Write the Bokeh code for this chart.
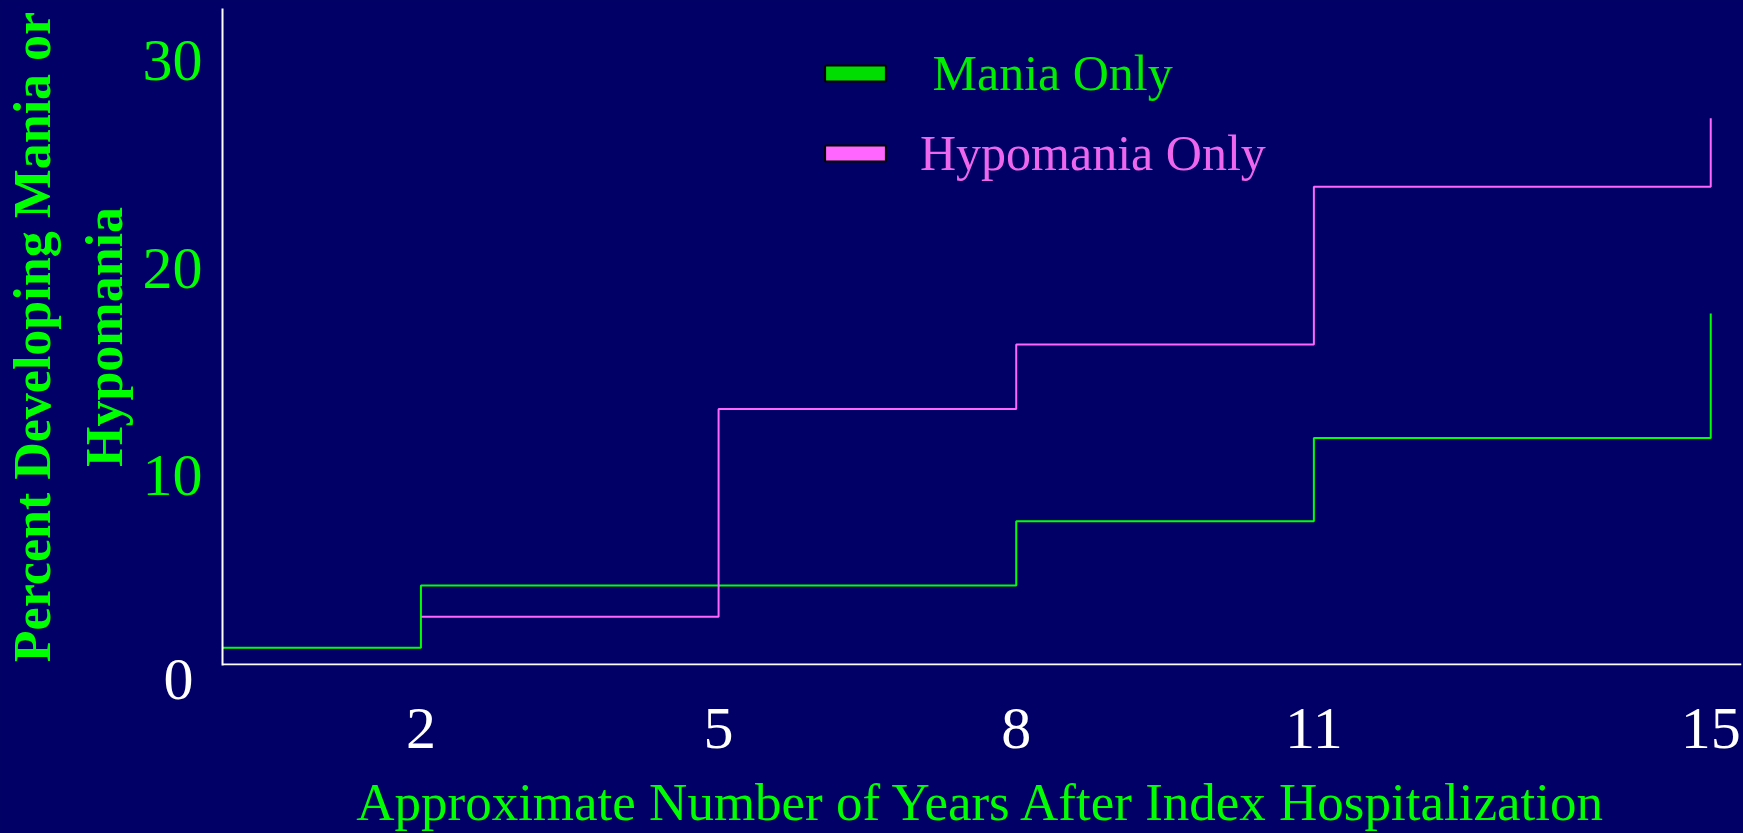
from bokeh.plotting import figure
from bokeh.models import (Range1d, LinearAxis, FixedTicker, Legend, LegendItem, Span, Title,
                          GlobalInlineStyleSheet)
from bokeh.embed import file_html
from bokeh.resources import INLINE

# ---- data ----
mania_years = [0, 2, 5, 8, 11, 15]
mania_pct = [0.8, 3.8, 3.8, 6.9, 10.9, 16.9]
hypo_years = [2, 5, 8, 11, 15]
hypo_pct = [2.3, 12.3, 15.4, 23.0, 26.3]
x_tick_years = [2, 5, 8, 11, 15]
y_tick_green = [10, 20, 30]
y_tick_white = [0]
series_names = [" Mania Only", "Hypomania Only"]

BG = "#000066"
GREEN = "#00FF00"
PINK = "#FF66FF"
FONT = "Liberation Serif"
NAN = float("nan")

p = figure(width=1743, height=833,
           x_range=Range1d(0, 15.31), y_range=Range1d(-0.05, 31.58),
           output_backend="svg", toolbar_location=None, y_axis_location=None,
           background_fill_color=BG, border_fill_color=BG, outline_line_color=None,
           min_border_left=222, min_border_right=2, min_border_top=8, min_border_bottom=168)
p.grid.visible = False
p.stylesheets = [GlobalInlineStyleSheet(css="html, body { background-color: #000066; }")]

# x axis (its line is the zero baseline drawn below)
xa = p.xaxis[0]
xa.ticker = FixedTicker(ticks=x_tick_years)
xa.axis_line_color = None
xa.major_tick_line_color = None
xa.minor_tick_line_color = None
xa.major_label_text_color = "white"
xa.major_label_text_font = FONT
xa.major_label_text_font_size = "60px"
xa.major_label_standoff = 8
xa.axis_label = "Approximate Number of Years After Index Hospitalization"
xa.axis_label_text_color = GREEN
xa.axis_label_text_font = FONT
xa.axis_label_text_font_size = "53px"
xa.axis_label_text_font_style = "normal"
xa.axis_label_standoff = 22

# white "0" at the origin, sitting just under the plot area, left of the y axis
zero_title = Title(text=str(y_tick_white[0]), align="left", offset=-59, vertical_align="top",
                   standoff=-12, text_color="white", text_font=FONT, text_font_size="60px",
                   text_font_style="normal")
p.below = [zero_title, xa]

p.add_layout(Span(location=0, dimension="width", line_color="white", line_width=2))

# y axis: labels placed as on the original slide (slightly below their grid values)
p.extra_y_ranges = {"lab": Range1d(0.867, 32.50)}
ya = LinearAxis(y_range_name="lab", ticker=FixedTicker(ticks=y_tick_green),
                axis_line_color="white", axis_line_width=2,
                major_tick_line_color=None, minor_tick_line_color=None,
                major_label_text_color=GREEN, major_label_text_font=FONT,
                major_label_text_font_size="60px", major_label_standoff=14,
                axis_label="Percent Developing Mania or\nHypomania",
                axis_label_text_color=GREEN, axis_label_text_font=FONT,
                axis_label_text_font_size="52px", axis_label_text_font_style="bold",
                axis_label_standoff=7, axis_label_text_line_height=1.25)
p.add_layout(ya, "left")

# step lines
p.step(mania_years, mania_pct, mode="after", line_color=GREEN, line_width=2)
p.step(hypo_years, hypo_pct, mode="after", line_color=PINK, line_width=2)

# legend swatches (no visible data of their own)
sw_m = p.quad(left=[NAN], right=[NAN], top=[NAN], bottom=[NAN],
              fill_color="#00DD00", line_color="black", line_width=2)
sw_h = p.quad(left=[NAN], right=[NAN], top=[NAN], bottom=[NAN],
              fill_color=PINK, line_color="black", line_width=2)

def make_legend(name, rend, color, loc):
    return Legend(items=[LegendItem(label=name, renderers=[rend])], location=loc,
                  background_fill_alpha=0, border_line_alpha=0, padding=0, margin=0, spacing=0,
                  glyph_width=76, glyph_height=20, label_standoff=27,
                  label_text_font=FONT, label_text_font_size="50px", label_text_color=color)

p.add_layout(make_legend(series_names[0], sw_m, "#00EE00", (595, 563)))
p.add_layout(make_legend(series_names[1], sw_h, "#EE66EE", (595, 483)))

open("out.html", "w").write(file_html(p, INLINE))
